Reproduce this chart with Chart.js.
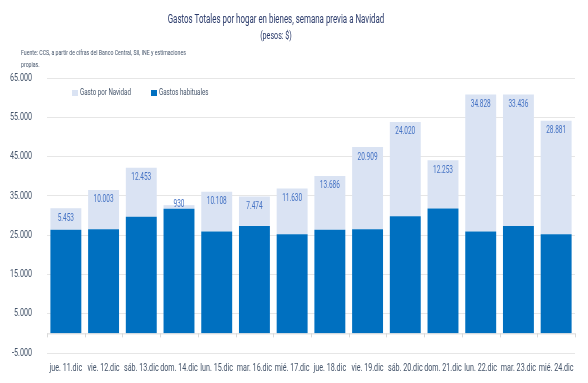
<!DOCTYPE html>
<html lang="es">
<head>
  <meta charset="UTF-8">
  <title>Gastos Totales por hogar en bienes</title>
  <script src="https://cdn.jsdelivr.net/npm/chart.js"></script>
  <style>
    html, body { margin: 0; padding: 0; background: #fff; }
    #wrap { position: relative; width: 588px; height: 383px; }
  </style>
</head>
<body>
  <div id="wrap"><canvas id="chart"></canvas></div>

  <script>
    // Data
    const days = ["jue. 11.dic", "vie. 12.dic", "sáb. 13.dic", "dom. 14.dic", "lun. 15.dic", "mar. 16.dic", "mié. 17.dic",
                  "jue. 18.dic", "vie. 19.dic", "sáb. 20.dic", "dom. 21.dic", "lun. 22.dic", "mar. 23.dic", "mié. 24.dic"];
    const gastosHabituales = [26400, 26500, 29700, 31700, 25950, 27350, 25250, 26400, 26500, 29800, 31800, 25950, 27350, 25250];
    const gastoNavidad = [5453, 10003, 12453, 930, 10108, 7474, 11630, 13686, 20909, 24020, 12253, 34828, 33436, 28881];
    const yTicks = { min: -5000, max: 65000, step: 10000 };

    const titleText = "Gastos Totales por hogar en bienes, semana previa a Navidad";
    const subtitleText = "(pesos: $)";
    const sourceLines = ["Fuente: CCS, a partir de cifras del Banco Central, SII, INE y estimaciones", "propias."];

    const FONT = "Roboto, 'Liberation Sans', sans-serif";
    const SQUEEZE = 0.65; // the original uses a condensed face, so text is narrowed
    const DARK = "#0070c0";
    const LIGHT = "#dae3f3";
    const TEXT = "#44546a";

    const fmt = (v) => (v < 0 ? "-" : "") + String(Math.abs(v)).replace(/\B(?=(\d{3})+(?!\d))/g, ".");

    function drawText(ctx, text, x, y, align, size) {
      ctx.save();
      ctx.font = size + "px " + FONT;
      ctx.textAlign = align;
      ctx.textBaseline = "middle";
      ctx.translate(x, y);
      ctx.scale(SQUEEZE, 1);
      ctx.fillText(text, 0, 0);
      ctx.restore();
    }

    // Title, subtitle and source note
    const headerPlugin = {
      id: "header",
      afterDraw(chart) {
        const ctx = chart.ctx;
        ctx.save();
        ctx.fillStyle = "#2b3b6b";
        drawText(ctx, titleText, 276, 20, "center", 12.2);
        drawText(ctx, subtitleText, 276, 36, "center", 11);
        ctx.fillStyle = TEXT;
        drawText(ctx, sourceLines[0], 21, 53, "left", 8);
        drawText(ctx, sourceLines[1], 21, 65, "left", 8);
        ctx.restore();
      }
    };

    // Tick labels, drawn from the scales' own ticks
    const tickLabelPlugin = {
      id: "tickLabels",
      afterDraw(chart) {
        const ctx = chart.ctx;
        const area = chart.chartArea;
        const xs = chart.scales.x;
        const ys = chart.scales.y;
        ctx.save();
        ctx.fillStyle = TEXT;
        ys.ticks.forEach((t) => {
          drawText(ctx, fmt(t.value), area.left - 15, ys.getPixelForValue(t.value), "right", 11);
        });
        chart.data.labels.forEach((lab, i) => {
          drawText(ctx, lab, xs.getPixelForValue(i), area.bottom + 15, "center", 11);
        });
        ctx.restore();
      }
    };

    // Legend drawn inside the plot area, Navidad first
    const legendPlugin = {
      id: "innerLegend",
      afterDraw(chart) {
        const ctx = chart.ctx;
        const area = chart.chartArea;
        const items = [chart.data.datasets[1], chart.data.datasets[0]];
        let x = area.left + 25;
        const y = area.top + 15;
        ctx.save();
        items.forEach((ds) => {
          ctx.fillStyle = ds.backgroundColor;
          ctx.fillRect(x, y - 3, 6, 6);
          ctx.fillStyle = TEXT;
          drawText(ctx, ds.label, x + 8, y, "left", 9.5);
          x += 79;
        });
        ctx.restore();
      }
    };

    // Zero axis line with small ticks between categories, and value labels
    const extrasPlugin = {
      id: "extras",
      afterDatasetsDraw(chart) {
        const ctx = chart.ctx;
        const area = chart.chartArea;
        const y0 = chart.scales.y.getPixelForValue(0);
        const n = chart.data.labels.length;
        const w = (area.right - area.left) / n;
        ctx.save();
        ctx.strokeStyle = "#d9d9d9";
        ctx.lineWidth = 1;
        ctx.beginPath();
        ctx.moveTo(area.left, y0 + 0.5);
        ctx.lineTo(area.right, y0 + 0.5);
        for (let i = 0; i <= n; i++) {
          const x = Math.round(area.left + i * w) + 0.5;
          ctx.moveTo(x, y0);
          ctx.lineTo(x, y0 + 4);
        }
        ctx.stroke();

        const meta = chart.getDatasetMeta(1);
        ctx.fillStyle = "#4472c4";
        meta.data.forEach((bar, i) => {
          const h = bar.base - bar.y;
          const ly = h < 20 ? bar.y - 1 : bar.y + 10;
          drawText(ctx, fmt(gastoNavidad[i]), bar.x, ly, "center", 10);
        });
        ctx.restore();
      }
    };

    const ctx = document.getElementById("chart").getContext("2d");
    new Chart(ctx, {
      type: "bar",
      data: {
        labels: days,
        datasets: [
          { label: "Gastos habituales", data: gastosHabituales, backgroundColor: DARK, barPercentage: 0.82, categoryPercentage: 1 },
          { label: "Gasto por Navidad", data: gastoNavidad, backgroundColor: LIGHT, barPercentage: 0.82, categoryPercentage: 1 }
        ]
      },
      options: {
        responsive: true,
        maintainAspectRatio: false,
        animation: false,
        layout: { padding: { left: 10, right: 13, top: 78, bottom: 4 } },
        plugins: {
          legend: { display: false },
          title: { display: false },
          tooltip: { enabled: false }
        },
        scales: {
          x: {
            stacked: true,
            grid: { display: false },
            border: { display: false },
            ticks: { display: false },
            afterFit(scale) { scale.height = 26; }
          },
          y: {
            stacked: true,
            min: yTicks.min,
            max: yTicks.max,
            grid: { color: "#e6e6e6", drawTicks: false },
            border: { display: false },
            ticks: { display: false, stepSize: yTicks.step },
            afterFit(scale) { scale.width = 37; }
          }
        }
      },
      plugins: [headerPlugin, tickLabelPlugin, legendPlugin, extrasPlugin]
    });
  </script>
</body>
</html>
